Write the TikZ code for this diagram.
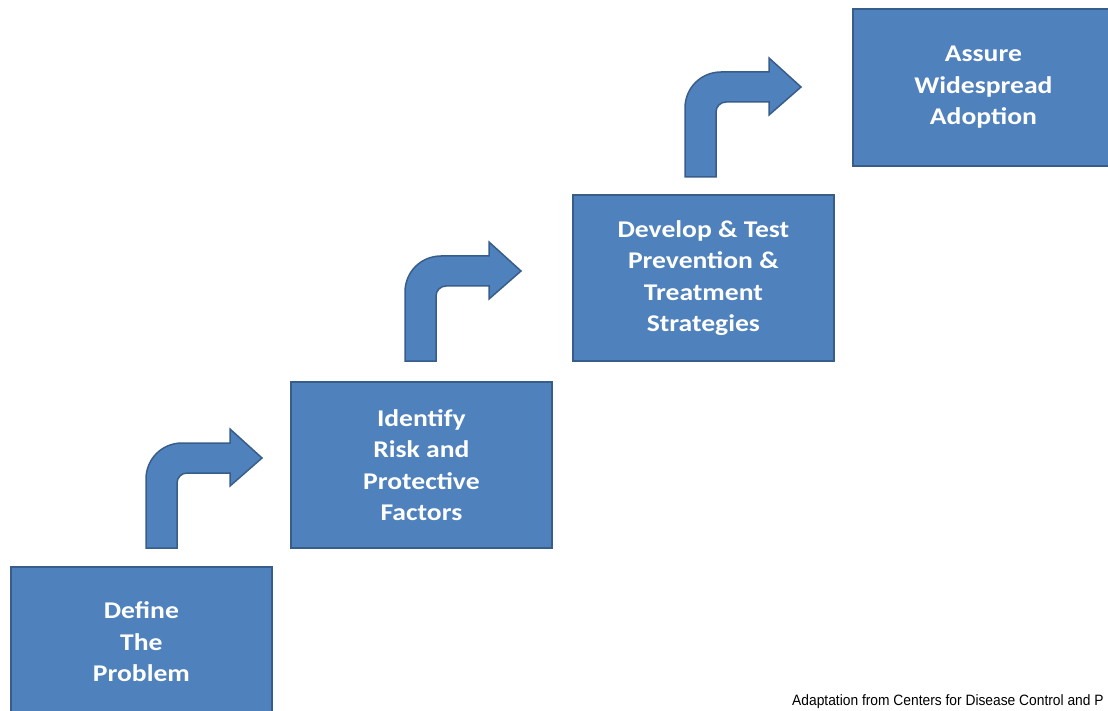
\documentclass[tikz,border=0pt]{standalone}
\usepackage{fontspec}
\newfontfamily\stagefont[FakeStretch=1.15]{Carlito}
\newfontfamily\notefont[FakeStretch=0.92]{Liberation Sans}
\definecolor{stagefill}{HTML}{4F81BD}
\definecolor{stageline}{HTML}{385D8A}

\begin{document}
\begin{tikzpicture}[
    x=1pt, y=-1pt,
    stage/.style={rectangle, draw=stageline, line width=1.8pt, fill=stagefill, text=white,
        anchor=north west, minimum width=261pt, minimum height=166pt, align=center,
        font=\stagefont\bfseries\fontsize{24}{31.5}\selectfont},
    note/.style={anchor=base west, inner sep=0pt, font=\notefont\fontsize{15}{17}\selectfont},
    stepup/.pic={
        \draw[draw=stageline, line width=1.5pt, fill=stagefill]
            (0,0) -- (0,-69) .. controls (0,-89) and (16,-105) .. (36,-105)
            -- (84,-105) -- (84,-119) -- (116,-90) -- (84,-62) -- (84,-75)
            -- (41,-75) .. controls (35.5,-75) and (31,-70.5) .. (31,-65)
            -- (31,0) -- cycle;
    }
]

\useasboundingbox (0,0) rectangle (1108,711);
\clip (0,0) rectangle (1108,711);

\node[stage, minimum height=150pt] (define) at (10,566) {Define\\The\\Problem};
\node[stage] (identify) at (290,381) {Identify\\Risk and\\Protective\\Factors};
\node[stage] (develop) at (572,194) {Develop \& Test\\Prevention \&\\Treatment\\Strategies};
\node[stage, minimum height=157pt] (assure) at (852,8) {Assure\\Widespread\\Adoption};

\pic at ([shift={(136,-18)}]define.north west) {stepup};
\pic at ([shift={(115,-20)}]identify.north west) {stepup};
\pic at ([shift={(113,-17)}]develop.north west) {stepup};

\node[note] (source) at (792,705) {Adaptation from Centers for Disease Control and P};

\end{tikzpicture}
\end{document}
